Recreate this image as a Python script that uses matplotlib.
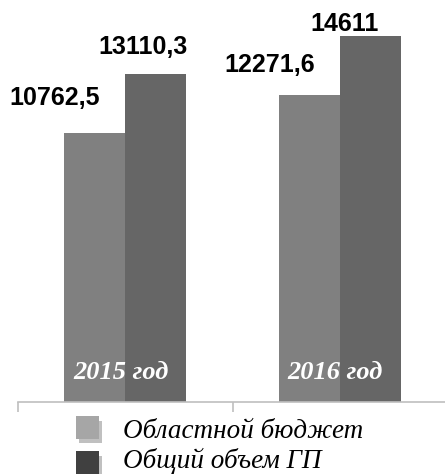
import matplotlib
matplotlib.use("Agg")
import matplotlib.pyplot as plt
from matplotlib.patches import Rectangle

# data
years = ["2015 год", "2016 год"]
oblast_budget = [10762.5, 12271.6]
total_gp = [13110.3, 14611.0]
series_names = ["Областной бюджет", "Общий объем ГП"]

W, H = 445, 474
fig = plt.figure(figsize=(W / 100, H / 100), dpi=100)

# axes: left edge at x=18 px, baseline at y=402 px, top at image top
ax = fig.add_axes([18 / W, 1 - 402 / H, (447 - 18) / W, 402 / H])
ax.set_xlim(-0.5, 1.5)
ax.set_ylim(0, 16060)

width = 0.285
x = range(len(years))
b1 = ax.bar([i - width / 2 for i in x], oblast_budget, width, color="#808080")
b2 = ax.bar([i + width / 2 for i in x], total_gp, width, color="#666666")


def fmt(v):
    s = ("%.1f" % v).replace(".", ",")
    return s[:-2] if s.endswith(",0") else s


# value labels, offsets in pixels from the top of each bar
offsets = [(-40, 35), (-39, 30)], [(-13, 27), (-26, 12)]
for bars, vals, offs in ((b1, oblast_budget, offsets[0]), (b2, total_gp, offsets[1])):
    for rect, v, (dx, dy) in zip(bars, vals, offs):
        ax.annotate(fmt(v), (rect.get_x() + rect.get_width() / 2, v),
                    xytext=(dx, dy), textcoords="offset pixels",
                    ha="center", va="center", fontsize=18, fontweight="bold",
                    family="Liberation Sans", color="black")

# year labels inside bars
for i, y in enumerate(years):
    ax.text(i - 0.02, 1170, y, ha="center", va="center", color="white",
            fontsize=19, fontweight="bold", fontstyle="italic",
            family="Liberation Serif")

for s in ["top", "right", "left"]:
    ax.spines[s].set_visible(False)
ax.spines["bottom"].set_color("#bfbfbf")
ax.spines["bottom"].set_linewidth(1.2)
ax.set_yticks([])
ax.set_xticks([-0.5, 0.5, 1.5])
ax.set_xticklabels([])
ax.tick_params(axis="x", length=7, width=1.2, color="#bfbfbf")

# legend drawn by hand with shadowed squares
def px(xp, yp):
    return xp / W, 1 - yp / H

legend_rows = [(416, "#a6a6a6", 432), (451, "#404040", 461)]
for (top, col, text_y), name in zip(legend_rows, series_names):
    sx, sy = px(79, top + 27)
    fig.add_artist(Rectangle((sx, sy), 23 / W, 22 / H, transform=fig.transFigure,
                             color="#c0c0c0", lw=0))
    mx, my = px(76, top + 23)
    fig.add_artist(Rectangle((mx, my), 23 / W, 23 / H, transform=fig.transFigure,
                             color=col, lw=0))
    tx, ty = px(123, text_y)
    fig.text(tx, ty, name, ha="left", va="center", fontsize=19.5,
             fontstyle="italic", family="Liberation Serif", color="black")

fig.savefig("out.png", dpi=100)
